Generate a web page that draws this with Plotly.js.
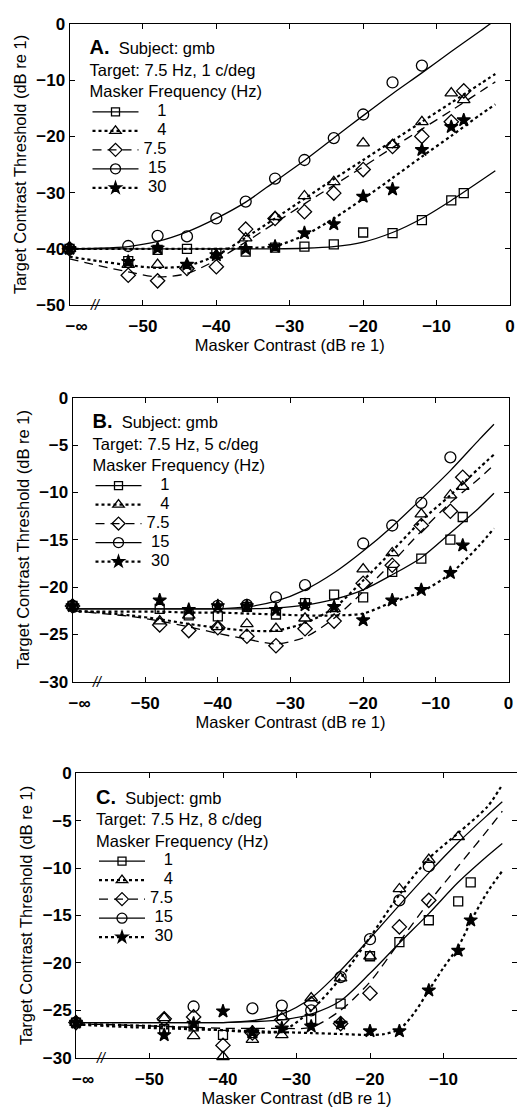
<!DOCTYPE html>
<html><head><meta charset="utf-8">
<script src="https://cdn.plot.ly/plotly-3.0.1.min.js"></script>
<style>html,body{margin:0;padding:0;background:#fff}</style>
</head><body><div id="chart" style="width:517px;height:1107px"></div>
<script>
// ---------- tick labels ----------
const xTickVals = [-60, -50, -40, -30, -20, -10, 0];
const xTickText = ['\u00A0\u00A0\u00A0\u2212\u221E', '\u221250', '\u221240', '\u221230', '\u221220', '\u221210', '0'];
const yTickValsA = [-50, -40, -30, -20, -10, 0];
const yTickTextA = ['\u221250', '\u221240', '\u221230', '\u221220', '\u221210', '0'];
const yTickValsBC = [-30, -25, -20, -15, -10, -5, 0];
const yTickTextBC = ['\u221230', '\u221225', '\u221220', '\u221215', '\u221210', '\u22125', '0'];
const axisBreakAt = -56.5;

// ---------- legend / headers ----------
const maskerFreqs = ['1', '4', '7.5', '15', '30'];
const panelLetters = ['A.', 'B.', 'C.'];
const targetSF = ['1 c/deg', '5 c/deg', '8 c/deg'];

// ---------- Panel A data (x = masker contrast dB; -60 stands for -inf) ----------
const dataXA = [-60, -52, -48, -44, -40, -36, -32, -28, -24, -20, -16, -12, -8, -6.3];
const sqA   = [-40, -42.2, -40.2, -40.0, -40.8, -40.5, -39.8, -39.6, -39.2, -37.1, -37.2, -34.9, -31.4, -30.1];
const triA  = [-40, -42.8, -42.8, -42.9, -41.1, -38.1, -34.3, -30.6, -28.1, -21.2, -21.5, -17.4, -12.3, -13.5];
const diaA  = [-40, -44.7, -45.7, -43.5, -43.2, -36.5, -34.6, -33.4, -30.1, -25.9, -21.8, -20.0, -17.4, -11.9];
const cirA  = [-40, -39.5, -37.7, -37.8, -34.6, -31.6, -27.5, -24.2, -20.3, -16.1, -10.4, -7.4, null, null];
const starA = [-40, -42.3, -39.9, -42.8, -41.1, -40.0, -39.6, -37.2, -35.6, -30.7, -29.4, -22.4, -18.3, -17.1];

const curveXA = [-60, -56, -52, -48, -44, -40, -36, -32, -28, -24, -20, -16, -12, -8, -4, -2];
const fit1A   = [-40, -40, -40, -40, -40, -40, -40, -40, -39.9, -39.6, -38.8, -37.1, -34.6, -31.4, -27.9, -26.1];
const fit4A   = [-41.4, -42.2, -42.9, -43.4, -43.0, -41.2, -38.0, -34.6, -31.1, -27.6, -24.2, -20.8, -17.4, -14.0, -10.6, -8.9];
const fit75A  = [-41.8, -43.0, -44.1, -45.0, -44.4, -42.0, -38.8, -35.4, -32.0, -28.7, -25.4, -22.0, -18.7, -15.4, -12.0, -10.3];
const fit15A  = [-40, -39.9, -39.6, -38.7, -37.0, -34.6, -31.7, -28.0, -24.3, -20.3, -16.3, -12.4, -8.7, -4.9, -1.2, 0.7];
const fit30A  = [-40, -40, -40, -40, -40, -40, -39.9, -39.5, -37.6, -34.6, -31.1, -27.4, -23.6, -19.9, -16.1, -14.3];

// ---------- Panel B data ----------
const dataXB = [-60, -48, -44, -40, -36, -32, -28, -24, -20, -16, -12, -8, -6.3];
const sqB   = [-22, -22.3, -23.0, -23.1, -22.1, -22.9, -21.7, -20.8, -21.1, -18.4, -17.0, -15.0, -12.6];
const triB  = [-22, -23.6, -23.0, -24.2, -23.9, -24.4, -23.3, -22.3, -18.1, -16.4, -12.3, -10.3, -9.4];
const diaB  = [-22, -24.0, -24.6, -24.3, -25.2, -26.2, -24.4, -23.6, -19.6, -17.7, -13.5, -12.0, -8.4];
const cirB  = [-22, null, null, -22.0, -21.9, -21.1, -19.8, null, -15.4, -13.5, -11.1, -6.3, null];
const starB = [-22, -21.4, -22.4, -22.0, -22.0, -22.4, -21.9, -22.1, -23.5, -21.4, -20.3, -18.5, -15.6];

const curveXB = [-60, -56, -52, -48, -44, -40, -36, -32, -28, -24, -20, -16, -12, -8, -4, -2];
const fit1B   = [-22.3, -22.3, -22.3, -22.3, -22.3, -22.3, -22.3, -22.2, -21.9, -21.3, -20.3, -18.7, -16.9, -14.3, -11.6, -10.1];
const fit4B   = [-22.5, -22.7, -23.0, -23.4, -23.9, -24.3, -24.6, -24.6, -23.8, -22.2, -19.3, -16.2, -13.0, -10.3, -7.4, -6.0];
const fit75B  = [-22.5, -22.8, -23.1, -23.6, -24.2, -24.9, -25.5, -26.0, -25.3, -23.3, -20.5, -17.4, -14.1, -11.1, -8.5, -7.1];
const fit15B  = [-22.3, -22.3, -22.3, -22.3, -22.3, -22.3, -22.1, -21.5, -20.3, -18.5, -16.2, -13.6, -10.7, -7.7, -4.4, -2.8];
const fit30B  = [-22.6, -22.6, -22.6, -22.6, -22.7, -22.7, -22.8, -22.9, -23.0, -23.0, -22.8, -21.6, -20.5, -18.6, -15.6, -13.8];

// ---------- Panel C data ----------
const dataXC = [-60, -48, -44, -40, -36, -32, -28, -24, -20, -16, -12, -8, -6.3];
const sqC   = [-26.3, -27.0, -26.7, -27.6, -27.4, -25.5, -25.9, -24.3, -19.3, -17.8, -15.5, -13.5, -11.5];
const triC  = [-26.3, -25.8, -27.7, -29.9, -28.1, -27.6, -23.7, -21.6, -19.3, -12.2, -9.1, -6.7, null];
const diaC  = [-26.3, -25.9, -25.7, -28.7, -27.4, -26.0, -24.3, -26.4, -23.2, -16.2, -13.4, null, null];
const cirC  = [-26.3, null, -24.6, null, -24.8, -24.5, -25.0, -21.5, -17.5, -13.4, -9.8, null, null];
const starC = [-26.3, -27.6, -26.4, -25.1, -27.3, -26.9, -26.7, -26.4, -27.2, -27.2, -22.9, -18.7, -15.5];

const curveXC = [-60, -56, -52, -48, -44, -40, -36, -32, -28, -24, -20, -16, -12, -8, -4, -2];
const fit1C   = [-26.3, -26.3, -26.3, -26.3, -26.3, -26.3, -26.2, -26.0, -25.4, -24.0, -21.1, -17.9, -14.8, -11.5, -8.7, -7.4];
const fit4C   = [-26.5, -26.5, -26.6, -26.7, -26.9, -27.1, -27.3, -27.2, -25.0, -21.6, -17.3, -12.8, -9.0, -6.3, -3.5, -1.2];
const fit75C  = [-26.5, -26.5, -26.6, -26.7, -26.8, -26.9, -26.9, -26.9, -26.8, -25.0, -22.0, -17.8, -13.6, -9.8, -6.0, -4.0];
const fit15C  = [-26.3, -26.3, -26.3, -26.3, -26.3, -26.3, -26.1, -25.4, -23.7, -20.8, -17.4, -13.9, -10.5, -7.3, -4.4, -3.0];
const curveX30C = [-60, -52, -44, -36, -28, -24, -20, -18, -16, -14, -12, -10, -8, -6, -4, -2];
const fit30C  = [-26.5, -26.8, -27.0, -27.2, -27.4, -27.5, -27.6, -27.5, -27.0, -25.3, -22.9, -20.5, -18.3, -15.2, -12.5, -10.3];

// ---------- styles ----------
const FONT = 'Liberation Sans, Arial, Helvetica, sans-serif';
const symbols = ['square-open', 'triangle-up-open', 'diamond-open', 'circle-open', 'star'];
const msizes  = [9, 11, 11, 11, 10];
const dashes  = ['solid', 'dot', '9px,6px', 'solid', 'dot'];
const lwidths = [1.3, 2.2, 1.3, 1.3, 2.2];
const namePad = ['\u00A0\u00A0\u00A0', '\u00A0\u00A0\u00A0', '', '\u00A0', '\u00A0'];

const panels = [
  {dataX: dataXA, data: [sqA, triA, diaA, cirA, starA],
   curves: [[curveXA, fit1A], [curveXA, fit4A], [curveXA, fit75A], [curveXA, fit15A], [curveXA, fit30A]],
   yr: [-50, 0], yv: yTickValsA, yt: yTickTextA,
   px: [69.5, 510], py: [24, 305]},
  {dataX: dataXB, data: [sqB, triB, diaB, cirB, starB],
   curves: [[curveXB, fit1B], [curveXB, fit4B], [curveXB, fit75B], [curveXB, fit15B], [curveXB, fit30B]],
   yr: [-30, 0], yv: yTickValsBC, yt: yTickTextBC,
   px: [72.5, 508.5], py: [397.7, 681.7]},
  {dataX: dataXC, data: [sqC, triC, diaC, cirC, starC],
   curves: [[curveXC, fit1C], [curveXC, fit4C], [curveXC, fit75C], [curveXC, fit15C], [curveX30C, fit30C]],
   yr: [-30, 0], yv: yTickValsBC, yt: yTickTextBC,
   px: [76, 517], py: [773.3, 1057.7]}
];

const W = 517, H = 1107;
const traces = [];
const layout = {
  width: W, height: H, margin: {l: 0, r: 0, t: 0, b: 0},
  paper_bgcolor: '#fff', plot_bgcolor: '#fff', showlegend: true,
  font: {family: FONT, color: '#000', size: 16},
  annotations: []
};

panels.forEach((p, i) => {
  const s = i === 0 ? '' : String(i + 1);
  const xa = 'x' + s, ya = 'y' + s;
  const legId = 'legend' + s;
  p.curves.forEach((c, k) => {
    traces.push({type: 'scatter', mode: 'lines', x: c[0], y: c[1], xaxis: xa, yaxis: ya,
      line: {color: '#000', width: lwidths[k], dash: dashes[k], shape: 'spline', smoothing: 0.8},
      showlegend: false, hoverinfo: 'skip'});
  });
  p.data.forEach((d, k) => {
    traces.push({type: 'scatter', mode: 'markers', x: p.dataX, y: d, xaxis: xa, yaxis: ya,
      marker: {symbol: symbols[k], size: msizes[k], color: '#000', line: {color: '#000', width: 1.3}},
      showlegend: false, cliponaxis: false});
  });
  maskerFreqs.forEach((f, k) => {
    traces.push({type: 'scatter', mode: 'lines+markers', x: [null], y: [null], xaxis: xa, yaxis: ya,
      name: '<span style="font-size:16.5px">' + namePad[k] + f + '</span>',
      legend: legId,
      line: {color: '#000', width: lwidths[k], dash: dashes[k]},
      marker: {symbol: symbols[k], size: msizes[k] - 1, color: '#000', line: {color: '#000', width: 1.3}}});
  });

  const xdom = [p.px[0] / W, p.px[1] / W];
  const ydom = [1 - p.py[1] / H, 1 - p.py[0] / H];
  layout['xaxis' + s] = {
    domain: xdom, anchor: ya, range: [-60, 0],
    tickvals: xTickVals, ticktext: xTickText,
    ticks: 'inside', ticklen: 5, tickwidth: 1, tickcolor: '#000',
    showline: true, linecolor: '#000', linewidth: 1, mirror: 'ticks',
    showgrid: false, zeroline: false,
    tickfont: {family: FONT, size: 17, weight: 'bold', color: '#000'},
    ticklabelstandoff: 6,
    title: {text: 'Masker Contrast (dB re 1)', font: {family: FONT, size: 16.5, color: '#000'}, standoff: 2}
  };
  layout['yaxis' + s] = {
    domain: ydom, anchor: xa, range: p.yr,
    tickvals: p.yv, ticktext: p.yt,
    ticks: 'inside', ticklen: 5, tickwidth: 1, tickcolor: '#000',
    showline: true, linecolor: '#000', linewidth: 1, mirror: 'ticks',
    showgrid: false, zeroline: false,
    tickfont: {family: FONT, size: 17, weight: 'bold', color: '#000'},
    title: {text: 'Target Contrast Threshold (dB re 1)', font: {family: FONT, size: 16.5, color: '#000'}, standoff: 5}
  };
  layout[legId] = {
    x: (p.px[0] + 18) / W, y: 1 - (p.py[0] + 9) / H, xanchor: 'left', yanchor: 'top',
    bgcolor: 'rgba(0,0,0,0)', borderwidth: 0,
    font: {family: FONT, size: 11, color: '#000'},
    itemwidth: 46, tracegroupgap: 0, traceorder: 'normal', itemclick: false, itemdoubleclick: false,
    title: {text: '<b><span style="font-size:20px">' + panelLetters[i] + '</span></b>\u00A0\u00A0Subject: gmb<br>Target: 7.5 Hz, ' + targetSF[i] + '<br>Masker Frequency (Hz)',
            font: {family: FONT, size: 16.5, color: '#000'}, side: 'top'}
  };
  layout.annotations.push({xref: xa, yref: ya + ' domain', x: axisBreakAt, y: 0, text: '<i>//</i>',
    showarrow: false, font: {family: FONT, size: 14, color: '#000'}, xanchor: 'center', yanchor: 'middle'});
});

Plotly.newPlot('chart', traces, layout, {staticPlot: true, displayModeBar: false});
</script></body></html>
